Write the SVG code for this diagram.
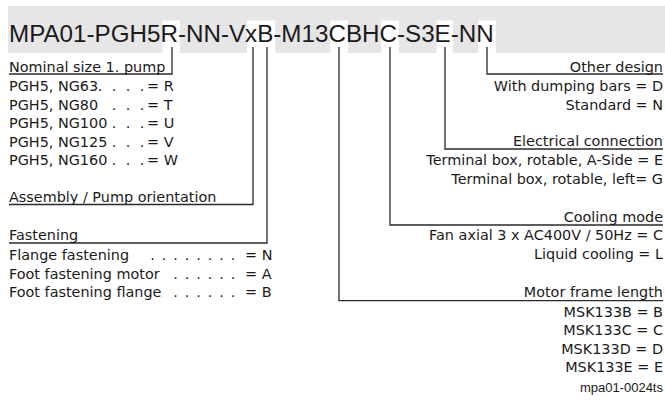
<svg xmlns="http://www.w3.org/2000/svg" width="665" height="405" viewBox="0 0 665 405">
<style>
.t{font-family:"DejaVu Sans",sans-serif;font-size:14.4px;fill:#1a1a1a;white-space:pre}
.r{text-anchor:end}
.h{font-family:"Liberation Sans",Arial,sans-serif;font-size:24.2px;fill:#1a1a1a}
.c{fill:none;stroke:#2a2a2a;stroke-width:1.3}
.hl{fill:#ffffff}
</style>
<rect width="665" height="405" fill="#ffffff"/>
<g id="header">
<rect x="8" y="6" width="657" height="47" fill="#e6e6e6"/>
<rect class="hl" x="162.3" y="20.5" width="17.5" height="32.5"/>
<rect class="hl" x="247" y="20.5" width="28.3" height="32.5"/>
<rect class="hl" x="330.3" y="20.5" width="17.5" height="32.5"/>
<rect class="hl" x="381.4" y="20.5" width="17.5" height="32.5"/>
<rect class="hl" x="436.6" y="20.5" width="16.2" height="32.5"/>
<rect class="hl" x="478.2" y="20.5" width="17.5" height="32.5"/>
<text class="h" x="9" y="42.3">MPA01-PGH5R-NN-VxB-M13CBHC-S3E-NN</text>
</g>
<g id="connectors">
<polyline class="c" points="9,74 172,74 172,47"/>
<polyline class="c" points="9,204.5 253,204.5 253,47"/>
<polyline class="c" points="9,243 267,243 267,47"/>
<polyline class="c" points="339,47 339,300.7 663,300.7"/>
<polyline class="c" points="390,47 390,225 663,225"/>
<polyline class="c" points="445,47 445,149 663,149"/>
<polyline class="c" points="487,47 487,74 663,74"/>
</g>
<g id="nominal-size">
<text class="t" x="9" y="72">Nominal size 1. pump</text>
<text class="t" x="9" y="91">PGH5, NG63</text><text class="t" x="97.7 111.7 125.7 139.7" y="91">....</text><text class="t" x="147" y="91">= R</text>
<text class="t" x="9" y="109.6">PGH5, NG80</text><text class="t" x="111.7 125.7 139.7" y="109.6">...</text><text class="t" x="147" y="109.6">= T</text>
<text class="t" x="9" y="128.2">PGH5, NG100</text><text class="t" x="111.7 125.7 139.7" y="128.2">...</text><text class="t" x="147" y="128.2">= U</text>
<text class="t" x="9" y="146.8">PGH5, NG125</text><text class="t" x="111.7 125.7 139.7" y="146.8">...</text><text class="t" x="147" y="146.8">= V</text>
<text class="t" x="9" y="165.4">PGH5, NG160</text><text class="t" x="111.7 125.7 139.7" y="165.4">...</text><text class="t" x="147" y="165.4">= W</text>
</g>
<g id="assembly">
<text class="t" x="9" y="202">Assembly / Pump orientation</text>
</g>
<g id="fastening">
<text class="t" x="9" y="239.5">Fastening</text>
<text class="t" x="9" y="260">Flange fastening</text><text class="t" x="150.2 161.7 173.2 184.7 196.2 207.7 219.2 230.7" y="260">........</text><text class="t" x="245" y="260">= N</text>
<text class="t" x="9" y="278.5">Foot fastening motor</text><text class="t" x="173.2 184.7 196.2 207.7 219.2 230.7" y="278.5">......</text><text class="t" x="245" y="278.5">= A</text>
<text class="t" x="9" y="297">Foot fastening flange</text><text class="t" x="173.2 184.7 196.2 207.7 219.2 230.7" y="297">......</text><text class="t" x="245" y="297">= B</text>
</g>
<g id="other-design">
<text class="t r" x="663" y="72">Other design</text>
<text class="t r" x="663" y="91">With dumping bars = D</text>
<text class="t r" x="663" y="109.6">Standard = N</text>
</g>
<g id="electrical-connection">
<text class="t r" x="663" y="146.3">Electrical connection</text>
<text class="t r" x="663" y="165">Terminal box, rotable, A-Side = E</text>
<text class="t r" x="663" y="183.5">Terminal box, rotable, left= G</text>
</g>
<g id="cooling-mode">
<text class="t r" x="663" y="221.5">Cooling mode</text>
<text class="t r" x="663" y="240">Fan axial 3 x AC400V / 50Hz = C</text>
<text class="t r" x="663" y="258.5">Liquid cooling = L</text>
</g>
<g id="motor-frame-length">
<text class="t r" x="663" y="297">Motor frame length</text>
<text class="t r" x="663" y="316.7">MSK133B = B</text>
<text class="t r" x="663" y="335.2">MSK133C = C</text>
<text class="t r" x="663" y="353.7">MSK133D = D</text>
<text class="t r" x="663" y="372.2">MSK133E = E</text>
</g>
<text x="663" y="392" style="font-family:'Liberation Sans',Arial,sans-serif;font-size:13px;fill:#1a1a1a;text-anchor:end">mpa01-0024ts</text>
</svg>
